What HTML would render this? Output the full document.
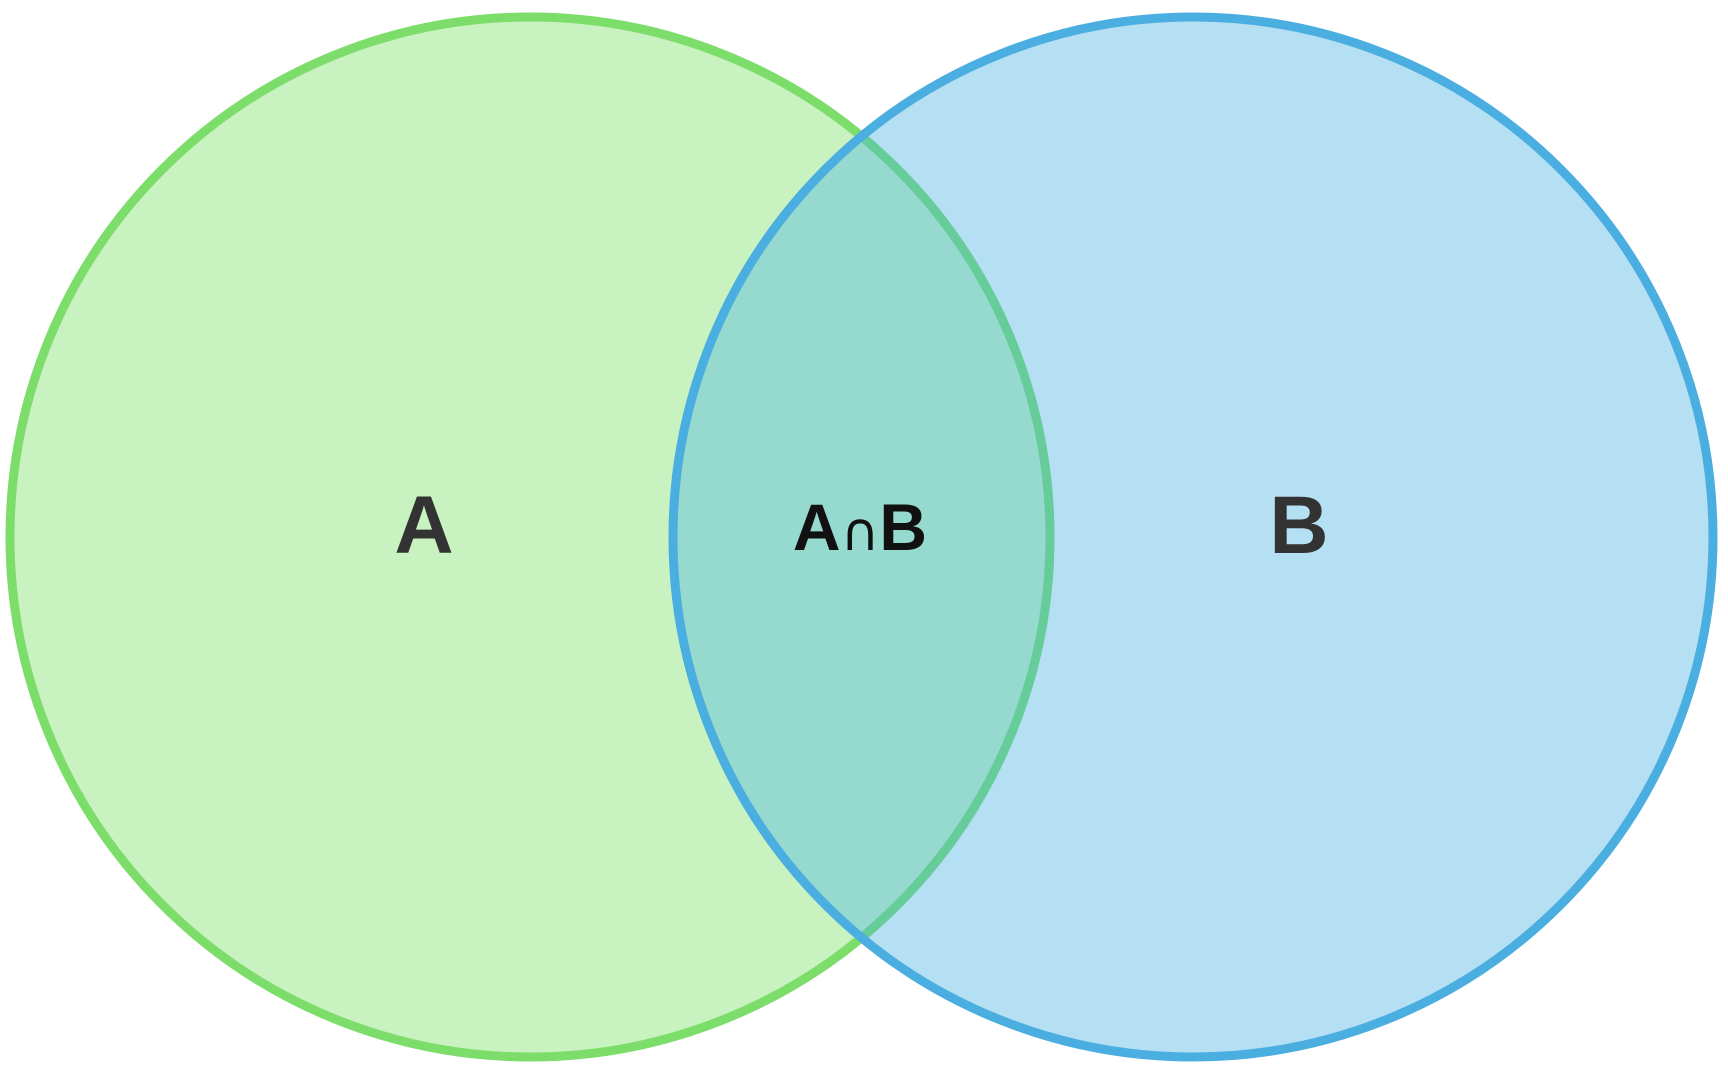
<!DOCTYPE html>
<html><head><style>html,body{margin:0;padding:0;background:#fff;}svg{display:block}</style></head>
<body>
<svg width="1728" height="1069" viewBox="0 0 1728 1069" xmlns="http://www.w3.org/2000/svg">
<defs>
<clipPath id="cb"><circle cx="1193" cy="537" r="520"/></clipPath>
</defs>
<circle cx="530" cy="537" r="520" fill="#c8f2c0" stroke="#7ddd6a" stroke-width="9"/>
<circle cx="1193" cy="537" r="520" fill="#b5dff2"/>
<g clip-path="url(#cb)">
<circle cx="530" cy="537" r="520" fill="#95d9cf" stroke="#66cc99" stroke-width="9"/>
</g>
<circle cx="1193" cy="537" r="520" fill="none" stroke="#4aaee0" stroke-width="9"/>
<g font-family="Liberation Sans, sans-serif" font-weight="bold">
<text x="424" y="553" font-size="82" fill="#333" text-anchor="middle">A</text>
<text x="1299" y="553" font-size="82" fill="#333" text-anchor="middle">B</text>
<text x="860" y="550" font-size="66" fill="#111" text-anchor="middle">A<tspan font-weight="normal" font-family="DejaVu Sans, sans-serif" font-size="53">∩</tspan>B</text>
</g>
</svg>
</body></html>
